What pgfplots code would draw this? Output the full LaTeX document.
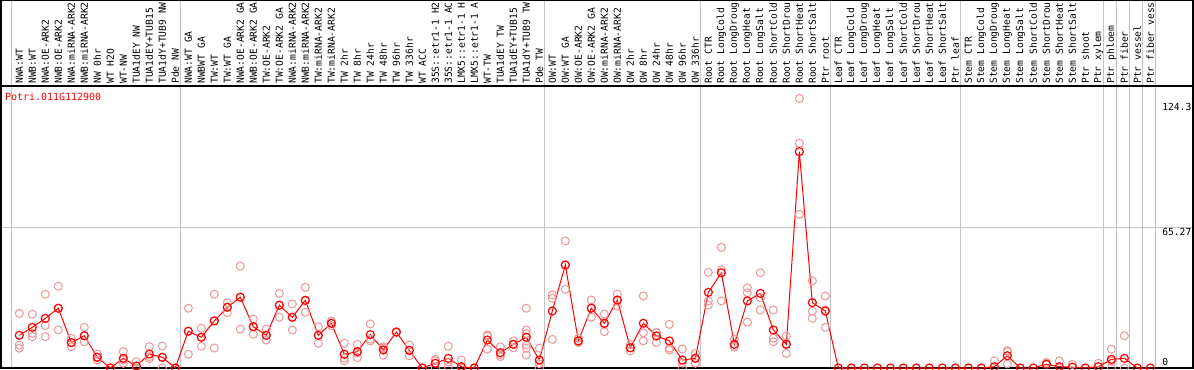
\documentclass[border=0pt]{standalone}
\usepackage{pgfplots}
\pgfplotsset{compat=1.18}
\usepackage{fontspec}
\setmainfont{DejaVu Sans Mono}
\definecolor{pale}{RGB}{238,150,150}
\definecolor{gline}{RGB}{195,195,195}
\tikzset{lab/.style={rotate=90, anchor=west, inner sep=0pt, font=\fontsize{9.7}{10}\selectfont, xshift=-1bp}}
\begin{document}
\begin{tikzpicture}
\useasboundingbox (0,0) rectangle (1194bp,370bp);
\begin{axis}[
  at={(0,0)}, anchor=south west,
  width=1194bp, height=370bp, scale only axis,
  xmin=-1.4846, xmax=90.3615,
  ymin=-0.9302, ymax=171.163,
  axis lines=none, xtick=\empty, ytick=\empty,
  clip=false,
]
% grid lines
\foreach \g in {-0.6,12.4,40.4,52.4,62.4,72.4,83.4,84.4,85.4,86.4,87.4}{
  \edef\tmp{\noexpand\draw[gline, line width=1.2bp] (axis cs:\g,0) -- (axis cs:\g,171.1);}\tmp
}
\draw[gline, line width=1.2bp] (axis cs:-1.408,65.27) -- (axis cs:90.28,65.27);
% frame
\draw[black, line width=1.3bp] (axis cs:-1.408,0) -- (axis cs:-1.408,170.9) -- (axis cs:90.28,170.9) -- (axis cs:90.28,0) -- cycle;
\draw[black, line width=1.3bp] (axis cs:-1.408,131.16) -- (axis cs:90.28,131.16);

% replicates
\addplot[only marks, mark=o, mark size=4bp, color=pale, mark options={line width=1bp}] table {
x y
0 25.4
0 10.7
0 9.2
1 25.0
1 16.1
1 14.6
2 34.3
2 19.7
2 14.6
3 38.0
3 17.7
3 27.8
4 13.8
4 9.9
4 11.8
5 18.9
5 12.2
5 15.0
6 6.5
6 3.7
6 5.0
7 0
8 7.6
8 2.2
8 3.7
9 2.9
9 0
10 9.9
10 5.3
10 4.3
11 10.2
11 4.8
11 0
12 0
13 27.8
13 6.4
13 17.1
14 18.5
14 10.1
14 14.3
15 34.3
15 9.3
15 22.0
16 30.4
16 25.7
16 28.5
17 47.4
17 18.1
17 33.0
18 22.8
18 15.7
18 19.2
19 18.1
19 13.0
19 15.2
20 34.7
20 23.6
20 29.2
21 29.8
21 17.7
21 23.6
22 37.5
22 25.9
22 31.2
23 19.2
23 11.5
23 15.0
24 21.9
24 20.8
24 19.7
25 11.5
25 4.5
25 3.3
26 11.0
26 4.8
26 7.0
27 20.5
27 12.6
27 13.4
28 9.9
28 6.0
28 9.3
29 16.9
29 16.5
30 10.7
30 5.7
30 8.2
31 0
32 4.0
32 3.4
32 0
33 10.1
33 0.6
33 2.8
34 3.7
34 0
35 0
36 14.9
36 8.7
36 15.4
37 9.9
37 5.3
37 6.1
38 12.6
38 11.0
38 9.4
39 27.8
39 17.7
39 16.0
39 10.7
39 9.2
39 6.0
40 9.2
40 0
40 2.0
41 34.0
41 32.4
41 13.3
42 59.1
42 36.6
42 47.9
43 13.8
43 12.2
43 11.8
44 31.6
44 28.0
44 23.6
45 25.1
45 16.9
45 20.4
46 34.4
46 28.8
46 31.6
47 8.0
47 9.4
47 10.8
48 33.5
48 16.4
48 12.6
49 16.4
49 11.8
49 16.5
50 20.3
50 9.2
50 8.4
51 8.8
51 0
51 2.3
52 6.8
52 2.2
52 4.5
53 44.5
53 31.2
53 29.3
54 56.1
54 45.6
54 31.2
55 13.3
55 9.9
55 9.8
56 37.3
56 21.3
56 35.0
57 44.3
57 32.7
57 27.0
58 27.0
58 12.2
58 13.9
59 14.9
59 6.8
59 11.3
60 125.4
60 104.5
60 71.5
61 40.5
61 26.5
61 23.1
62 33.5
62 18.9
62 27.0
75 3.3
76 8.1
76 7.6
76 1.9
79 2.6
79 2.0
80 3.3
81 1.7
83 2.2
84 8.8
84 0
84 3.2
85 15.0
85 0
};

% means
\addplot[red, line width=1bp, mark=o, mark size=4bp, mark options={line width=1.2bp}] table {
x y
0 15.2
1 18.9
2 23.1
3 27.8
4 11.8
5 15.0
6 5.0
7 0
8 4.5
9 0.9
10 6.5
11 5.0
12 0
13 17.1
14 14.3
15 21.9
16 28.2
17 32.9
18 19.2
19 15.2
20 29.2
21 23.6
22 31.5
23 15.2
24 20.8
25 6.4
26 7.6
27 15.5
28 8.4
29 16.7
30 8.2
31 0
32 2.2
33 4.5
34 0.6
35 0
36 13.0
37 7.1
38 11.0
39 14.3
40 3.7
41 26.5
42 47.9
43 12.6
44 27.8
45 20.8
46 31.6
47 9.4
48 20.8
49 14.9
50 12.6
51 3.7
52 4.5
53 35.2
54 44.3
55 11.0
56 31.2
57 34.7
58 17.7
59 11.0
60 100.6
61 30.4
62 26.5
63 0
64 0
65 0
66 0
67 0
68 0
69 0
70 0
71 0
72 0
73 0
74 0
75 0.6
76 5.7
77 0
78 0
79 1.7
80 0.6
81 0.4
82 0
83 0.6
84 4.0
85 4.5
86 0
87 0
};

% texts
\node[anchor=west, inner sep=0pt, text=red, font=\fontsize{10}{11}\selectfont] at (axis cs:-1.1,126.0) {Potri.011G112900};
\node[anchor=west, inner sep=0pt, font=\fontsize{9.7}{10}\selectfont] at (axis cs:87.9,121.4) {124.3};
\node[anchor=west, inner sep=0pt, font=\fontsize{9.7}{10}\selectfont] at (axis cs:87.9,63.3) {65.27};
\node[anchor=west, inner sep=0pt, font=\fontsize{9.7}{10}\selectfont] at (axis cs:87.9,2.8) {0};

\node[lab] at (axis cs:0,132.6) {NWA:WT};
\node[lab] at (axis cs:1,132.6) {NWB:WT};
\node[lab] at (axis cs:2,132.6) {NWA:OE-ARK2};
\node[lab] at (axis cs:3,132.6) {NWB:OE-ARK2};
\node[lab] at (axis cs:4,132.6) {NWA:miRNA-ARK2};
\node[lab] at (axis cs:5,132.6) {NWB:miRNA-ARK2};
\node[lab] at (axis cs:6,132.6) {NW 0hr};
\node[lab] at (axis cs:7,132.6) {WT H2O};
\node[lab] at (axis cs:8,132.6) {WT-NW};
\node[lab] at (axis cs:9,132.6) {TUA1dEY NW};
\node[lab] at (axis cs:10,132.6) {TUA1dEY+TUB15};
\node[lab] at (axis cs:11,132.6) {TUA1dY+TUB9 NW};
\node[lab] at (axis cs:12,132.6) {Pde NW};
\node[lab] at (axis cs:13,132.6) {NWA:WT GA};
\node[lab] at (axis cs:14,132.6) {NWBWT GA};
\node[lab] at (axis cs:15,132.6) {TW:WT};
\node[lab] at (axis cs:16,132.6) {TW:WT GA};
\node[lab] at (axis cs:17,132.6) {NWA:OE-ARK2 GA};
\node[lab] at (axis cs:18,132.6) {NWB:OE-ARK2 GA};
\node[lab] at (axis cs:19,132.6) {TW:OE-ARK2};
\node[lab] at (axis cs:20,132.6) {TW:OE-ARK2 GA};
\node[lab] at (axis cs:21,132.6) {NWA:miRNA-ARK2};
\node[lab] at (axis cs:22,132.6) {NWB:miRNA-ARK2};
\node[lab] at (axis cs:23,132.6) {TW:miRNA-ARK2};
\node[lab] at (axis cs:24,132.6) {TW:miRNA-ARK2};
\node[lab] at (axis cs:25,132.6) {TW 2hr};
\node[lab] at (axis cs:26,132.6) {TW 8hr};
\node[lab] at (axis cs:27,132.6) {TW 24hr};
\node[lab] at (axis cs:28,132.6) {TW 48hr};
\node[lab] at (axis cs:29,132.6) {TW 96hr};
\node[lab] at (axis cs:30,132.6) {TW 336hr};
\node[lab] at (axis cs:31,132.6) {WT ACC};
\node[lab] at (axis cs:32,132.6) {35S::etr1-1 H2};
\node[lab] at (axis cs:33,132.6) {35S::etr1-1 AC};
\node[lab] at (axis cs:34,132.6) {LMX5::etr1-1 H};
\node[lab] at (axis cs:35,132.6) {LMX5::etr1-1 A};
\node[lab] at (axis cs:36,132.6) {WT-TW};
\node[lab] at (axis cs:37,132.6) {TUA1dEY TW};
\node[lab] at (axis cs:38,132.6) {TUA1dEY+TUB15};
\node[lab] at (axis cs:39,132.6) {TUA1dY+TUB9 TW};
\node[lab] at (axis cs:40,132.6) {Pde TW};
\node[lab] at (axis cs:41,132.6) {OW:WT};
\node[lab] at (axis cs:42,132.6) {OW:WT GA};
\node[lab] at (axis cs:43,132.6) {OW:OE-ARK2};
\node[lab] at (axis cs:44,132.6) {OW:OE-ARK2 GA};
\node[lab] at (axis cs:45,132.6) {OW:miRNA-ARK2};
\node[lab] at (axis cs:46,132.6) {OW:miRNA-ARK2};
\node[lab] at (axis cs:47,132.6) {OW 2hr};
\node[lab] at (axis cs:48,132.6) {OW 8hr};
\node[lab] at (axis cs:49,132.6) {OW 24hr};
\node[lab] at (axis cs:50,132.6) {OW 48hr};
\node[lab] at (axis cs:51,132.6) {OW 96hr};
\node[lab] at (axis cs:52,132.6) {OW 336hr};
\node[lab] at (axis cs:53,132.6) {Root CTR};
\node[lab] at (axis cs:54,132.6) {Root LongCold};
\node[lab] at (axis cs:55,132.6) {Root LongDroug};
\node[lab] at (axis cs:56,132.6) {Root LongHeat};
\node[lab] at (axis cs:57,132.6) {Root LongSalt};
\node[lab] at (axis cs:58,132.6) {Root ShortCold};
\node[lab] at (axis cs:59,132.6) {Root ShortDrou};
\node[lab] at (axis cs:60,132.6) {Root ShortHeat};
\node[lab] at (axis cs:61,132.6) {Root ShortSalt};
\node[lab] at (axis cs:62,132.6) {Ptr root};
\node[lab] at (axis cs:63,132.6) {Leaf CTR};
\node[lab] at (axis cs:64,132.6) {Leaf LongCold};
\node[lab] at (axis cs:65,132.6) {Leaf LongDroug};
\node[lab] at (axis cs:66,132.6) {Leaf LongHeat};
\node[lab] at (axis cs:67,132.6) {Leaf LongSalt};
\node[lab] at (axis cs:68,132.6) {Leaf ShortCold};
\node[lab] at (axis cs:69,132.6) {Leaf ShortDrou};
\node[lab] at (axis cs:70,132.6) {Leaf ShortHeat};
\node[lab] at (axis cs:71,132.6) {Leaf ShortSalt};
\node[lab] at (axis cs:72,132.6) {Ptr leaf};
\node[lab] at (axis cs:73,132.6) {Stem CTR};
\node[lab] at (axis cs:74,132.6) {Stem LongCold};
\node[lab] at (axis cs:75,132.6) {Stem LongDroug};
\node[lab] at (axis cs:76,132.6) {Stem LongHeat};
\node[lab] at (axis cs:77,132.6) {Stem LongSalt};
\node[lab] at (axis cs:78,132.6) {Stem ShortCold};
\node[lab] at (axis cs:79,132.6) {Stem ShortDrou};
\node[lab] at (axis cs:80,132.6) {Stem ShortHeat};
\node[lab] at (axis cs:81,132.6) {Stem ShortSalt};
\node[lab] at (axis cs:82,132.6) {Ptr shoot};
\node[lab] at (axis cs:83,132.6) {Ptr xylem};
\node[lab] at (axis cs:84,132.6) {Ptr phloem};
\node[lab] at (axis cs:85,132.6) {Ptr fiber};
\node[lab] at (axis cs:86,132.6) {Ptr vessel};
\node[lab] at (axis cs:87,132.6) {Ptr fiber vess};
\end{axis}
\end{tikzpicture}
\end{document}
